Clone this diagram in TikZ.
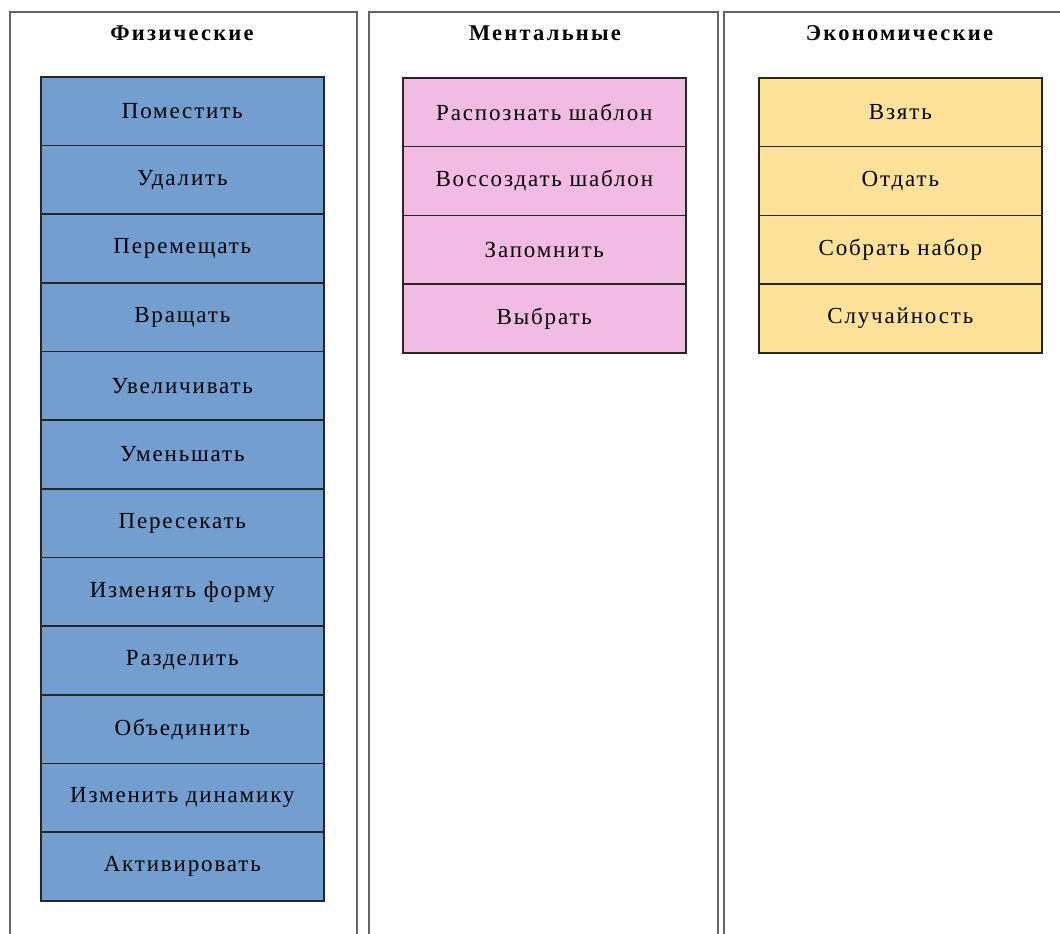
\documentclass[tikz,border=0pt]{standalone}
\usepackage{fontspec}
\setmainfont{Liberation Serif}
\definecolor{physblue}{RGB}{114,159,207}
\definecolor{mentpink}{RGB}{242,187,228}
\definecolor{ecoyellow}{RGB}{255,226,153}
\definecolor{panelgray}{RGB}{100,100,100}
\tikzset{
  panel/.style={draw=panelgray, line width=2pt, fill=white},
  title/.style={font=\fontsize{22.5}{26}\selectfont\bfseries\addfontfeatures{LetterSpace=10}, anchor=center},
  cell/.style={draw=black!85, line width=1.6pt, minimum width=283pt, minimum height=68.67pt, inner sep=0pt, anchor=north west, font=\fontsize{23}{27}\selectfont\addfontfeatures{LetterSpace=8}},
  phys/.style={cell, fill=physblue},
  ment/.style={cell, fill=mentpink, minimum height=68.75pt},
  eco/.style={cell, fill=ecoyellow, minimum height=68.75pt}
}
\begin{document}
\begin{tikzpicture}[x=1pt,y=-1pt]
\useasboundingbox (0,0) rectangle (1060,934);
\clip (0,0) rectangle (1060,934);
\fill[white] (0,0) rectangle (1060,934);
% panels
\draw[panel] (10,12) rectangle (357,950);
\draw[panel] (369,12) rectangle (718,950);
\draw[panel] (724,12) rectangle (1075,950);
% titles
\node[title] (t1) at (182,33) {Физические};
\node[title] (t2) at (545,33) {Ментальные};
\node[title] (t3) at (899.5,33) {Экономические};
% physical column
\foreach \txt [count=\i from 0] in {Поместить,Удалить,Перемещать,Вращать,Увеличивать,Уменьшать,Пересекать,Изменять форму,Разделить,Объединить,Изменить динамику,Активировать}
  \node[phys] (p\i) at (40,{76+68.67*\i}) {\txt};
% mental column
\foreach \txt [count=\i from 0] in {Распознать шаблон,Воссоздать шаблон,Запомнить,Выбрать}
  \node[ment] (m\i) at (402,{77+68.75*\i}) {\txt};
% economic column
\foreach \txt [count=\i from 0] in {Взять,Отдать,Собрать набор,Случайность}
  \node[eco] (e\i) at (758,{77+68.75*\i}) {\txt};
\end{tikzpicture}
\end{document}
